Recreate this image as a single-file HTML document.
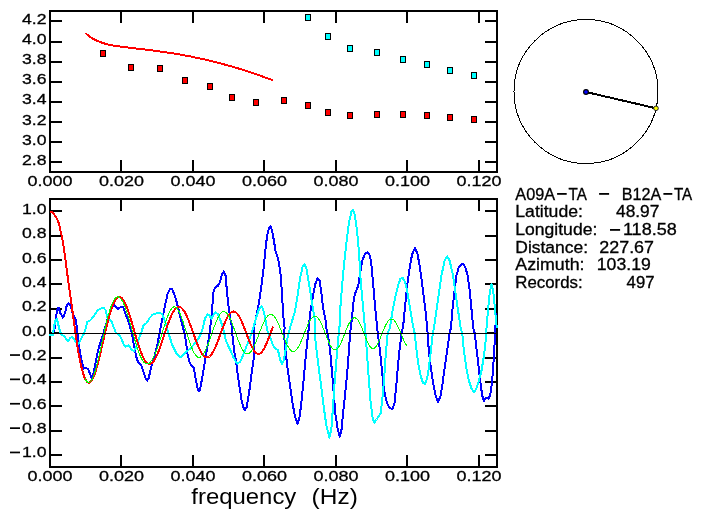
<!DOCTYPE html>
<html><head><meta charset="utf-8"><title>plot</title>
<style>html,body{margin:0;padding:0;background:#fff;}body{width:702px;height:519px;position:relative;overflow:hidden;font-family:"Liberation Sans",sans-serif;}</style>
</head><body>
<svg width="702" height="519" viewBox="0 0 702 519" style="position:absolute;left:0;top:0;will-change:transform;opacity:0.999">
<rect width="702" height="519" fill="#fff"/>
<g fill="none" stroke="#000" stroke-width="2" shape-rendering="crispEdges">
<rect x="50.0" y="11.0" width="447.0" height="161.0"/>
<rect x="50.0" y="199.0" width="447.0" height="268.0"/>
<line x1="121" y1="11.0" x2="121" y2="23.0"/>
<line x1="121" y1="172.0" x2="121" y2="160.0"/>
<line x1="121" y1="199.0" x2="121" y2="211.0"/>
<line x1="121" y1="467.0" x2="121" y2="455.0"/>
<line x1="193" y1="11.0" x2="193" y2="23.0"/>
<line x1="193" y1="172.0" x2="193" y2="160.0"/>
<line x1="193" y1="199.0" x2="193" y2="211.0"/>
<line x1="193" y1="467.0" x2="193" y2="455.0"/>
<line x1="264" y1="11.0" x2="264" y2="23.0"/>
<line x1="264" y1="172.0" x2="264" y2="160.0"/>
<line x1="264" y1="199.0" x2="264" y2="211.0"/>
<line x1="264" y1="467.0" x2="264" y2="455.0"/>
<line x1="336" y1="11.0" x2="336" y2="23.0"/>
<line x1="336" y1="172.0" x2="336" y2="160.0"/>
<line x1="336" y1="199.0" x2="336" y2="211.0"/>
<line x1="336" y1="467.0" x2="336" y2="455.0"/>
<line x1="407" y1="11.0" x2="407" y2="23.0"/>
<line x1="407" y1="172.0" x2="407" y2="160.0"/>
<line x1="407" y1="199.0" x2="407" y2="211.0"/>
<line x1="407" y1="467.0" x2="407" y2="455.0"/>
<line x1="479" y1="11.0" x2="479" y2="23.0"/>
<line x1="479" y1="172.0" x2="479" y2="160.0"/>
<line x1="479" y1="199.0" x2="479" y2="211.0"/>
<line x1="479" y1="467.0" x2="479" y2="455.0"/>
<line x1="50.0" y1="162" x2="62.0" y2="162"/>
<line x1="497.0" y1="162" x2="485.0" y2="162"/>
<line x1="50.0" y1="142" x2="62.0" y2="142"/>
<line x1="497.0" y1="142" x2="485.0" y2="142"/>
<line x1="50.0" y1="122" x2="62.0" y2="122"/>
<line x1="497.0" y1="122" x2="485.0" y2="122"/>
<line x1="50.0" y1="102" x2="62.0" y2="102"/>
<line x1="497.0" y1="102" x2="485.0" y2="102"/>
<line x1="50.0" y1="82" x2="62.0" y2="82"/>
<line x1="497.0" y1="82" x2="485.0" y2="82"/>
<line x1="50.0" y1="62" x2="62.0" y2="62"/>
<line x1="497.0" y1="62" x2="485.0" y2="62"/>
<line x1="50.0" y1="42" x2="62.0" y2="42"/>
<line x1="497.0" y1="42" x2="485.0" y2="42"/>
<line x1="50.0" y1="21" x2="62.0" y2="21"/>
<line x1="497.0" y1="21" x2="485.0" y2="21"/>
<line x1="50.0" y1="455" x2="62.0" y2="455"/>
<line x1="497.0" y1="455" x2="485.0" y2="455"/>
<line x1="50.0" y1="431" x2="62.0" y2="431"/>
<line x1="497.0" y1="431" x2="485.0" y2="431"/>
<line x1="50.0" y1="406" x2="62.0" y2="406"/>
<line x1="497.0" y1="406" x2="485.0" y2="406"/>
<line x1="50.0" y1="382" x2="62.0" y2="382"/>
<line x1="497.0" y1="382" x2="485.0" y2="382"/>
<line x1="50.0" y1="358" x2="62.0" y2="358"/>
<line x1="497.0" y1="358" x2="485.0" y2="358"/>
<line x1="50.0" y1="333" x2="62.0" y2="333"/>
<line x1="497.0" y1="333" x2="485.0" y2="333"/>
<line x1="50.0" y1="309" x2="62.0" y2="309"/>
<line x1="497.0" y1="309" x2="485.0" y2="309"/>
<line x1="50.0" y1="284" x2="62.0" y2="284"/>
<line x1="497.0" y1="284" x2="485.0" y2="284"/>
<line x1="50.0" y1="260" x2="62.0" y2="260"/>
<line x1="497.0" y1="260" x2="485.0" y2="260"/>
<line x1="50.0" y1="236" x2="62.0" y2="236"/>
<line x1="497.0" y1="236" x2="485.0" y2="236"/>
<line x1="50.0" y1="211" x2="62.0" y2="211"/>
<line x1="497.0" y1="211" x2="485.0" y2="211"/>
</g>
<clipPath id="cb"><rect x="49" y="199" width="449" height="268"/></clipPath>
<g clip-path="url(#cb)">
<polyline points="50.0,334.5 53.0,333.5 54.2,330.0 55.2,325.0 56.0,316.0 57.5,309.0 58.5,307.6 60.5,313.3 62.9,317.7 65.3,312.4 66.7,305.6 68.6,303.5 71.0,305.6 72.0,311.4 73.5,315.3 75.9,320.0 76.8,327.8 77.8,336.5 78.8,342.3 79.8,351.6 81.9,362.2 83.6,368.6 86.2,367.7 88.3,369.6 90.4,374.9 91.9,378.1 93.6,372.8 95.7,362.2 97.8,351.6 99.9,344.2 102.1,337.8 104.2,330.4 107.4,319.8 110.5,311.3 113.7,304.5 115.8,307.1 118.0,308.8 121.1,306.7 123.3,307.5 125.4,313.4 128.6,321.9 131.7,332.5 133.9,345.2 136.0,355.8 138.1,362.2 141.3,365.4 143.4,371.7 145.5,378.1 147.2,380.6 148.7,378.1 150.8,368.6 154.0,358.0 157.2,345.2 159.3,334.6 162.5,318.1 165.0,305.6 167.5,294.3 170.0,288.8 172.0,288.8 173.8,293.1 176.3,300.6 178.8,310.6 181.3,320.6 183.8,330.6 185.8,340.6 187.6,354.4 189.6,362.7 192.1,366.2 193.8,368.2 195.6,378.2 197.6,388.2 198.8,391.2 200.1,389.5 202.1,378.2 204.6,363.2 207.1,348.2 209.6,333.1 211.4,318.1 212.6,303.1 213.0,293.2 215.0,287.7 218.0,285.7 220.0,281.9 222.0,274.4 223.8,271.4 225.6,275.7 227.1,293.2 228.8,308.2 230.6,320.7 232.1,328.0 232.6,338.1 234.6,353.2 235.9,360.0 237.0,369.2 238.5,380.0 240.1,390.8 241.6,400.1 243.2,407.0 245.0,410.1 246.7,407.0 248.2,398.5 249.8,387.7 251.3,375.4 252.4,367.7 253.5,360.0 253.9,355.7 253.9,328.0 256.4,315.7 258.9,303.2 261.4,285.7 263.9,265.6 265.6,248.1 267.1,235.6 268.9,228.1 270.6,226.3 272.1,230.6 273.9,240.6 275.7,251.9 278.2,259.4 280.2,270.6 281.4,285.7 282.7,305.7 283.9,323.3 284.7,328.0 283.8,333.0 285.5,350.6 287.5,368.1 290.0,385.6 292.5,403.2 295.1,416.9 297.6,423.7 299.6,416.9 301.3,403.2 303.1,385.6 305.1,363.1 307.1,343.1 308.8,328.0 310.1,313.2 312.6,298.2 315.1,284.4 317.6,278.2 319.6,280.7 321.4,293.2 323.1,308.2 325.6,320.7 325.6,325.5 328.1,335.5 330.1,350.6 332.1,373.1 333.9,395.7 335.6,415.7 337.6,428.2 339.6,436.5 341.4,430.7 343.1,413.2 345.2,393.2 347.2,373.1 348.9,350.6 350.2,333.0 352.2,315.7 353.9,298.2 355.7,291.9 358.2,285.7 360.2,273.2 362.2,260.6 364.7,254.4 367.2,252.4 369.4,254.4 371.0,260.6 372.2,273.2 373.5,288.2 375.2,308.2 377.2,328.0 377.7,333.0 379.7,348.1 381.5,365.6 383.2,383.1 383.8,388.1 386.3,400.7 388.8,406.9 392.5,409.4 394.5,403.2 396.3,385.6 398.0,365.6 400.0,345.6 402.0,330.5 403.0,328.0 405.1,305.7 407.1,285.7 409.6,268.1 412.1,254.4 415.1,247.6 417.6,254.4 419.6,265.6 422.1,283.2 424.6,303.2 426.3,318.2 427.6,333.0 428.8,350.6 430.9,368.1 433.1,383.1 435.6,395.7 438.1,401.9 440.6,395.7 442.6,383.1 444.6,368.1 447.1,350.6 449.6,333.0 450.9,328.0 452.6,308.2 454.6,290.7 456.4,275.7 458.9,266.9 462.7,263.6 465.2,266.9 467.7,275.7 469.7,290.7 471.4,308.2 473.2,328.0 474.7,333.0 476.4,348.1 478.2,363.1 480.2,380.6 482.2,395.7 484.0,400.7 486.5,397.7 488.2,398.7 490.2,395.7 492.2,380.6 494.0,355.6 495.2,330.5 496.2,313.0" fill="none" stroke="#0000ff" stroke-width="2" stroke-linejoin="round" stroke-linecap="butt" shape-rendering="crispEdges"/>
<polyline points="49.0,335.0 52.7,335.0 53.2,331.7 54.2,325.9 55.6,320.1 56.6,318.7 58.0,323.0 59.0,327.8 60.5,332.6 61.4,334.6 63.8,336.0 66.2,338.9 68.2,341.3 70.1,337.9 72.0,337.0 73.9,338.9 75.9,342.3 77.8,344.7 79.3,342.3 81.7,337.4 84.1,333.6 85.5,328.8 87.2,321.9 90.4,320.2 93.6,316.6 96.8,311.3 99.9,308.8 103.5,307.7 105.7,310.3 107.4,317.7 109.5,319.8 111.6,321.5 113.7,327.2 115.8,332.5 119.0,335.1 121.1,337.8 123.3,343.5 125.4,346.9 128.6,345.2 131.7,349.5 133.9,351.0 136.0,347.4 138.1,341.0 141.3,332.5 143.4,325.7 146.6,323.0 149.8,317.7 152.9,314.5 156.1,313.4 160.0,313.1 162.0,313.8 163.8,318.1 166.3,325.6 168.8,334.4 172.5,345.7 176.3,353.2 180.0,357.4 182.5,355.7 186.3,351.9 190.1,348.7 195.1,343.2 198.8,338.1 201.3,333.1 203.1,326.9 205.1,318.1 207.6,314.3 209.6,315.6 211.4,318.9 213.1,315.6 215.6,312.3 218.1,314.3 220.6,320.6 223.1,328.1 225.6,339.4 228.1,345.7 230.6,350.7 233.9,358.2 237.2,363.7 240.2,361.9 243.9,353.2 247.7,343.2 250.7,335.6 253.9,325.6 256.4,316.8 258.9,309.3 261.5,306.1 263.2,309.3 265.2,318.1 267.2,330.6 270.0,336.8 272.5,344.3 275.0,348.1 278.0,350.1 280.0,359.3 282.0,364.3 283.8,360.6 285.5,350.6 287.5,338.0 290.0,328.0 295.1,310.7 297.6,295.7 300.1,278.2 302.6,266.9 304.6,264.4 306.3,268.1 308.1,278.2 310.1,290.7 312.1,303.2 314.6,318.2 314.6,333.0 316.3,348.1 318.8,368.1 321.4,388.1 323.9,408.2 326.4,425.7 329.4,437.7 331.4,428.2 333.1,405.7 334.6,383.1 336.4,360.6 338.1,340.5 339.6,325.5 340.1,310.7 342.1,285.7 343.9,265.6 346.4,243.1 348.9,223.1 351.4,211.8 352.7,210.0 354.4,213.0 356.4,225.6 358.2,243.1 359.7,263.1 360.7,280.7 362.2,298.2 363.9,315.7 365.2,330.5 366.4,345.6 367.7,363.1 368.9,380.6 370.7,403.2 372.7,418.2 374.2,422.7 376.5,419.5 379.0,415.7 380.7,413.2 382.2,400.7 384.0,380.6 385.7,355.6 387.7,333.0 390.0,328.0 392.5,310.7 395.0,298.2 398.0,285.7 400.5,278.7 402.5,277.7 405.1,281.9 407.6,293.2 410.1,308.2 412.6,323.3 414.6,333.0 416.3,348.1 418.1,363.1 420.6,375.6 423.1,383.1 425.1,383.9 427.1,378.1 428.8,368.1 430.6,353.1 432.6,335.5 433.9,328.0 436.4,310.7 438.9,293.2 441.4,275.7 444.6,260.6 447.1,256.4 449.6,260.6 452.6,273.2 455.2,290.7 457.7,308.2 460.7,328.0 462.2,333.0 463.9,350.6 466.4,368.1 468.9,380.6 471.4,388.1 474.2,392.4 476.4,388.1 478.9,380.6 481.5,370.6 484.0,355.6 485.7,340.5 486.5,328.0 488.2,308.2 489.7,293.2 491.5,283.7 493.2,290.7 494.7,305.7 496.2,323.3 497.0,328.0" fill="none" stroke="#00ffff" stroke-width="2" stroke-linejoin="round" stroke-linecap="butt" shape-rendering="crispEdges"/>
<polyline points="50.0,211.5 50.5,211.5 51.0,211.7 51.5,211.9 52.0,212.3 52.5,212.7 53.0,213.1 53.5,213.7 54.0,214.3 54.5,215.0 55.0,215.6 55.5,216.3 56.0,217.1 56.5,217.9 57.0,218.8 57.5,219.8 58.0,221.0 58.5,222.5 59.0,224.2 59.5,226.2 60.0,228.4 60.5,230.7 61.0,233.0 61.5,235.3 62.0,237.7 62.5,240.1 63.0,242.8 63.5,245.7 64.0,249.0 64.5,252.6 65.0,256.4 65.5,260.2 66.0,264.0 66.5,267.8 67.0,271.7 67.5,275.5 68.0,279.2 68.5,282.8 69.0,286.3 69.5,289.9 70.0,293.4 70.5,297.0 71.0,300.5 71.5,304.1 72.0,307.7 72.5,311.4 73.0,315.1 73.5,318.8 74.0,322.5 74.5,326.3 75.0,329.9 75.5,333.5 76.0,336.9 76.5,340.3 77.0,343.5 77.5,346.7 78.0,349.7 78.5,352.6 79.0,355.4 79.5,358.0 80.0,360.6 80.5,363.0 81.0,365.2 81.5,367.4 82.0,369.4 82.5,371.3 83.0,373.0 83.5,374.6 84.0,376.0 84.5,377.3 85.0,378.5 85.5,379.5 86.0,380.4 86.5,381.1 87.0,381.7 87.5,382.2 88.0,382.4 88.5,382.6 89.0,382.6 89.5,382.5 90.0,382.3 90.5,381.9 91.0,381.4 91.5,380.7 92.0,380.0 92.5,379.1 93.0,378.1 93.5,377.0 94.0,375.8 94.5,374.5 95.0,373.0 95.5,371.5 96.0,370.0 96.5,368.3 97.0,366.5 97.5,364.7 98.0,362.8 98.5,360.9 99.0,358.9 99.5,356.8 100.0,354.8 100.5,352.6 101.0,350.5 101.5,348.3 102.0,346.1 102.5,343.9 103.0,341.7 103.5,339.5 104.0,337.3 104.5,335.1 105.0,332.9 105.5,330.8 106.0,328.6 106.5,326.5 107.0,324.5 107.5,322.5 108.0,320.5 108.5,318.6 109.0,316.8 109.5,315.0 110.0,313.3 110.5,311.6 111.0,310.0 111.5,308.5 112.0,307.1 112.5,305.8 113.0,304.5 113.5,303.4 114.0,302.3 114.5,301.3 115.0,300.4 115.5,299.7 116.0,299.0 116.5,298.4 117.0,297.9 117.5,297.5 118.0,297.2 118.5,297.0 119.0,296.9 119.5,296.9 120.0,297.0 120.5,297.2 121.0,297.5 121.5,297.9 122.0,298.4 122.5,298.9 123.0,299.6 123.5,300.3 124.0,301.2 124.5,302.1 125.0,303.1 125.5,304.1 126.0,305.3 126.5,306.5 127.0,307.8 127.5,309.1 128.0,310.5 128.5,311.9 129.0,313.4 129.5,315.0 130.0,316.5 130.5,318.1 131.0,319.8 131.5,321.5 132.0,323.2 132.5,324.9 133.0,326.6 133.5,328.3 134.0,330.1 134.5,331.8 135.0,333.5 135.5,335.3 136.0,337.0 136.5,338.7 137.0,340.3 137.5,342.0 138.0,343.6 138.5,345.2 139.0,346.7 139.5,348.2 140.0,349.6 140.5,351.0 141.0,352.3 141.5,353.6 142.0,354.8 142.5,355.9 143.0,357.0 143.5,358.0 144.0,359.0 144.5,359.8 145.0,360.6 145.5,361.3 146.0,361.9 146.5,362.5 147.0,362.9 147.5,363.3 148.0,363.6 148.5,363.8 149.0,363.9 149.5,364.0 150.0,363.9 150.5,363.8 151.0,363.6 151.5,363.3 152.0,362.9 152.5,362.4 153.0,361.9 153.5,361.3 154.0,360.6 154.5,359.8 155.0,359.0 155.5,358.1 156.0,357.1 156.5,356.1 157.0,355.0 157.5,353.9 158.0,352.7 158.5,351.4 159.0,350.1 159.5,348.8 160.0,347.4 160.5,346.0 161.0,344.6 161.5,343.2 162.0,341.7 162.5,340.2 163.0,338.7 163.5,337.1 164.0,335.6 164.5,334.1 165.0,332.6 165.5,331.1 166.0,329.6 166.5,328.1 167.0,326.6 167.5,325.2 168.0,323.8 168.5,322.4 169.0,321.1 169.5,319.8 170.0,318.6 170.5,317.4 171.0,316.2 171.5,315.1 172.0,314.1 172.5,313.1 173.0,312.2 173.5,311.3 174.0,310.6 174.5,309.9 175.0,309.2 175.5,308.7 176.0,308.2 176.5,307.7 177.0,307.4 177.5,307.2 178.0,307.0 178.5,306.9 179.0,306.9 179.5,306.9 180.0,307.1 180.5,307.3 181.0,307.6 181.5,308.0 182.0,308.4 182.5,308.9 183.0,309.5 183.5,310.2 184.0,310.9 184.5,311.7 185.0,312.6 185.5,313.5 186.0,314.5 186.5,315.5 187.0,316.6 187.5,317.8 188.0,318.9 188.5,320.2 189.0,321.4 189.5,322.7 190.0,324.0 190.5,325.4 191.0,326.8 191.5,328.2 192.0,329.6 192.5,331.0 193.0,332.4 193.5,333.8 194.0,335.2 194.5,336.6 195.0,338.0 195.5,339.3 196.0,340.7 196.5,342.0 197.0,343.3 197.5,344.5 198.0,345.8 198.5,346.9 199.0,348.1 199.5,349.1 200.0,350.2 200.5,351.1 201.0,352.0 201.5,352.9 202.0,353.7 202.5,354.4 203.0,355.0 203.5,355.6 204.0,356.1 204.5,356.5 205.0,356.9 205.5,357.1 206.0,357.3 206.5,357.4 207.0,357.5 207.5,357.4 208.0,357.3 208.5,357.1 209.0,356.8 209.5,356.5 210.0,356.0 210.5,355.5 211.0,354.9 211.5,354.3 212.0,353.6 212.5,352.8 213.0,351.9 213.5,351.0 214.0,350.1 214.5,349.1 215.0,348.0 215.5,346.9 216.0,345.7 216.5,344.5 217.0,343.3 217.5,342.0 218.0,340.7 218.5,339.4 219.0,338.1 219.5,336.7 220.0,335.4 220.5,334.0 221.0,332.7 221.5,331.3 222.0,330.0 222.5,328.6 223.0,327.3 223.5,326.1 224.0,324.8 224.5,323.6 225.0,322.4 225.5,321.3 226.0,320.2 226.5,319.1 227.0,318.2 227.5,317.2 228.0,316.4 228.5,315.5 229.0,314.8 229.5,314.1 230.0,313.5 230.5,313.0 231.0,312.6 231.5,312.2 232.0,311.9 232.5,311.7 233.0,311.6 233.5,311.5 234.0,311.6 234.5,311.7 235.0,311.9 235.5,312.2 236.0,312.5 236.5,313.0 237.0,313.5 237.5,314.1 238.0,314.7 238.5,315.5 239.0,316.3 239.5,317.1 240.0,318.1 240.5,319.0 241.0,320.1 241.5,321.2 242.0,322.3 242.5,323.5 243.0,324.7 243.5,325.9 244.0,327.2 244.5,328.5 245.0,329.8 245.5,331.2 246.0,332.5 246.5,333.8 247.0,335.2 247.5,336.5 248.0,337.8 248.5,339.1 249.0,340.3 249.5,341.6 250.0,342.8 250.5,343.9 251.0,345.1 251.5,346.1 252.0,347.1 252.5,348.1 253.0,349.0 253.5,349.8 254.0,350.6 254.5,351.3 255.0,351.9 255.5,352.4 256.0,352.9 256.5,353.3 257.0,353.5 257.5,353.7 258.0,353.9 258.5,353.9 259.0,353.8 259.5,353.7 260.0,353.5 260.5,353.1 261.0,352.7 261.5,352.3 262.0,351.7 262.5,351.1 263.0,350.3 263.5,349.5 264.0,348.7 264.5,347.8 265.0,346.8 265.5,345.7 266.0,344.6 266.5,343.5 267.0,342.3 267.5,341.0 268.0,339.8 268.5,338.5 269.0,337.2 269.5,335.8 270.0,334.5 270.5,333.2 271.0,331.8 271.5,330.5 272.0,329.2 272.5,327.9 273.0,326.6" fill="none" stroke="#ff0000" stroke-width="2" stroke-linejoin="round" stroke-linecap="butt" shape-rendering="crispEdges"/>
<polyline points="85.0,378.4 85.5,379.5 86.0,380.4 86.5,381.1 87.0,381.7 87.5,382.2 88.0,382.5 88.5,382.6 89.0,382.6 89.5,382.4 90.0,382.1 90.5,381.7 91.0,381.1 91.5,380.3 92.0,379.5 92.5,378.4 93.0,377.3 93.5,376.1 94.0,374.7 94.5,373.2 95.0,371.6 95.5,369.9 96.0,368.2 96.5,366.3 97.0,364.4 97.5,362.4 98.0,360.3 98.5,358.2 99.0,356.0 99.5,353.7 100.0,351.5 100.5,349.2 101.0,346.9 101.5,344.6 102.0,342.3 102.5,339.9 103.0,337.6 103.5,335.3 104.0,333.0 104.5,330.8 105.0,328.6 105.5,326.4 106.0,324.3 106.5,322.2 107.0,320.2 107.5,318.2 108.0,316.3 108.5,314.5 109.0,312.7 109.5,311.1 110.0,309.5 110.5,308.0 111.0,306.5 111.5,305.2 112.0,304.0 112.5,302.8 113.0,301.8 113.5,300.8 114.0,299.9 114.5,299.2 115.0,298.6 115.5,298.0 116.0,297.6 116.5,297.2 117.0,297.0 117.5,296.9 118.0,296.9 118.5,297.0 119.0,297.2 119.5,297.5 120.0,297.9 120.5,298.4 121.0,299.0 121.5,299.7 122.0,300.5 122.5,301.4 123.0,302.3 123.5,303.4 124.0,304.5 124.5,305.7 125.0,307.0 125.5,308.3 126.0,309.7 126.5,311.2 127.0,312.7 127.5,314.3 128.0,315.9 128.5,317.6 129.0,319.3 129.5,321.0 130.0,322.7 130.5,324.5 131.0,326.3 131.5,328.1 132.0,329.9 132.5,331.7 133.0,333.5 133.5,335.3 134.0,337.1 134.5,338.8 135.0,340.5 135.5,342.2 136.0,343.9 136.5,345.5 137.0,347.1 137.5,348.6 138.0,350.1 138.5,351.5 139.0,352.9 139.5,354.2 140.0,355.4 140.5,356.5 141.0,357.6 141.5,358.6 142.0,359.5 142.5,360.4 143.0,361.1 143.5,361.8 144.0,362.4 144.5,362.8 145.0,363.2 145.5,363.6 146.0,363.8 146.5,363.9 147.0,364.0 147.5,363.9 148.0,363.8 148.5,363.6 149.0,363.3 149.5,362.9 150.0,362.4 150.5,361.9 151.0,361.3 151.5,360.6 152.0,359.9 152.5,359.1 153.0,358.2 153.5,357.2 154.0,356.2 154.5,355.2 155.0,354.1 155.5,352.9 156.0,351.6 156.5,350.4 157.0,349.0 157.5,347.7 158.0,346.3 158.5,344.8 159.0,343.3 159.5,341.8 160.0,340.3 160.5,338.7 161.0,337.1 161.5,335.5 162.0,333.8 162.5,332.2 163.0,330.5 163.5,328.9 164.0,327.3 164.5,325.7 165.0,324.1 165.5,322.6 166.0,321.0 166.5,319.6 167.0,318.2 167.5,316.8 168.0,315.5 168.5,314.3 169.0,313.2 169.5,312.1 170.0,311.1 170.5,310.2 171.0,309.4 171.5,308.8 172.0,308.2 172.5,307.7 173.0,307.3 173.5,307.0 174.0,306.9 174.5,306.9 175.0,306.9 175.5,307.1 176.0,307.4 176.5,307.8 177.0,308.4 177.5,309.0 178.0,309.7 178.5,310.5 179.0,311.4 179.5,312.5 180.0,313.5 180.5,314.7 181.0,316.0 181.5,317.3 182.0,318.6 182.5,320.1 183.0,321.5 183.5,323.0 184.0,324.6 184.5,326.2 185.0,327.7 185.5,329.3 186.0,330.9 186.5,332.5 187.0,334.1 187.5,335.7 188.0,337.3 188.5,338.8 189.0,340.3 189.5,341.8 190.0,343.2 190.5,344.6 191.0,345.9 191.5,347.2 192.0,348.4 192.5,349.6 193.0,350.7 193.5,351.7 194.0,352.7 194.5,353.5 195.0,354.3 195.5,355.0 196.0,355.6 196.5,356.2 197.0,356.6 197.5,357.0 198.0,357.2 198.5,357.4 199.0,357.5 199.5,357.4 200.0,357.3 200.5,357.1 201.0,356.8 201.5,356.5 202.0,356.0 202.5,355.4 203.0,354.8 203.5,354.1 204.0,353.3 204.5,352.4 205.0,351.5 205.5,350.5 206.0,349.4 206.5,348.3 207.0,347.1 207.5,345.8 208.0,344.6 208.5,343.2 209.0,341.9 209.5,340.5 210.0,339.0 210.5,337.6 211.0,336.1 211.5,334.7 212.0,333.2 212.5,331.7 213.0,330.3 213.5,328.8 214.0,327.4 214.5,326.0 215.0,324.7 215.5,323.4 216.0,322.1 216.5,320.9 217.0,319.7 217.5,318.6 218.0,317.6 218.5,316.6 219.0,315.7 219.5,314.9 220.0,314.2 220.5,313.5 221.0,313.0 221.5,312.5 222.0,312.1 222.5,311.8 223.0,311.6 223.5,311.5 224.0,311.5 224.5,311.6 225.0,311.8 225.5,312.1 226.0,312.5 226.5,312.9 227.0,313.5 227.5,314.1 228.0,314.9 228.5,315.7 229.0,316.5 229.5,317.5 230.0,318.5 230.5,319.6 231.0,320.7 231.5,321.9 232.0,323.2 232.5,324.4 233.0,325.7 233.5,327.1 234.0,328.5 234.5,329.9 235.0,331.3 235.5,332.7 236.0,334.1 236.5,335.5 237.0,336.8 237.5,338.2 238.0,339.6 238.5,340.9 239.0,342.1 239.5,343.4 240.0,344.6 240.5,345.7 241.0,346.8 241.5,347.8 242.0,348.8 242.5,349.6 243.0,350.4 243.5,351.2 244.0,351.8 244.5,352.4 245.0,352.9 245.5,353.2 246.0,353.5 246.5,353.8 247.0,353.9 247.5,353.9 248.0,353.8 248.5,353.7 249.0,353.4 249.5,353.1 250.0,352.7 250.5,352.1 251.0,351.6 251.5,350.9 252.0,350.1 252.5,349.3 253.0,348.4 253.5,347.4 254.0,346.4 254.5,345.3 255.0,344.2 255.5,343.0 256.0,341.8 256.5,340.6 257.0,339.3 257.5,338.0 258.0,336.7 258.5,335.4 259.0,334.0 259.5,332.7 260.0,331.4 260.5,330.1 261.0,328.8 261.5,327.5 262.0,326.3 262.5,325.1 263.0,323.9 263.5,322.8 264.0,321.8 264.5,320.8 265.0,319.8 265.5,318.9 266.0,318.1 266.5,317.4 267.0,316.7 267.5,316.1 268.0,315.6 268.5,315.2 269.0,314.9 269.5,314.6 270.0,314.5 270.5,314.4 271.0,314.4 271.5,314.5 272.0,314.7 272.5,314.9 273.0,315.3 273.5,315.7 274.0,316.3 274.5,316.9 275.0,317.5 275.5,318.3 276.0,319.1 276.5,320.0 277.0,320.9 277.5,321.9 278.0,323.0 278.5,324.1 279.0,325.2 279.5,326.4 280.0,327.6 280.5,328.9 281.0,330.1 281.5,331.4 282.0,332.7 282.5,334.0 283.0,335.3 283.5,336.6 284.0,337.9 284.5,339.1 285.0,340.3 285.5,341.5 286.0,342.6 286.5,343.7 287.0,344.7 287.5,345.7 288.0,346.6 288.5,347.5 289.0,348.3 289.5,349.0 290.0,349.6 290.5,350.1 291.0,350.6 291.5,351.0 292.0,351.3 292.5,351.4 293.0,351.5 293.5,351.5 294.0,351.5 294.5,351.3 295.0,351.0 295.5,350.7 296.0,350.2 296.5,349.7 297.0,349.1 297.5,348.4 298.0,347.6 298.5,346.7 299.0,345.8 299.5,344.8 300.0,343.8 300.5,342.7 301.0,341.6 301.5,340.4 302.0,339.2 302.5,338.0 303.0,336.7 303.5,335.4 304.0,334.1 304.5,332.9 305.0,331.6 305.5,330.3 306.0,329.1 306.5,327.8 307.0,326.7 307.5,325.5 308.0,324.4 308.5,323.4 309.0,322.4 309.5,321.4 310.0,320.6 310.5,319.8 311.0,319.0 311.5,318.4 312.0,317.8 312.5,317.4 313.0,317.0 313.5,316.7 314.0,316.5 314.5,316.4 315.0,316.4 315.5,316.4 316.0,316.6 316.5,316.9 317.0,317.2 317.5,317.7 318.0,318.2 318.5,318.9 319.0,319.6 319.5,320.3 320.0,321.2 320.5,322.1 321.0,323.1 321.5,324.2 322.0,325.3 322.5,326.5 323.0,327.7 323.5,328.9 324.0,330.1 324.5,331.4 325.0,332.7 325.5,334.0 326.0,335.3 326.5,336.6 327.0,337.9 327.5,339.1 328.0,340.3 328.5,341.5 329.0,342.6 329.5,343.7 330.0,344.7 330.5,345.6 331.0,346.4 331.5,347.2 332.0,347.9 332.5,348.5 333.0,349.0 333.5,349.3 334.0,349.6 334.5,349.8 335.0,349.9 335.5,349.8 336.0,349.7 336.5,349.4 337.0,349.1 337.5,348.6 338.0,348.0 338.5,347.4 339.0,346.6 339.5,345.8 340.0,344.9 340.5,343.9 341.0,342.9 341.5,341.7 342.0,340.6 342.5,339.4 343.0,338.1 343.5,336.9 344.0,335.6 344.5,334.3 345.0,333.0 345.5,331.7 346.0,330.4 346.5,329.2 347.0,328.0 347.5,326.8 348.0,325.6 348.5,324.6 349.0,323.5 349.5,322.6 350.0,321.7 350.5,320.9 351.0,320.2 351.5,319.6 352.0,319.0 352.5,318.6 353.0,318.2 353.5,318.0 354.0,317.9 354.5,317.8 355.0,317.9 355.5,318.0 356.0,318.3 356.5,318.6 357.0,319.1 357.5,319.7 358.0,320.3 358.5,321.0 359.0,321.9 359.5,322.7 360.0,323.7 360.5,324.7 361.0,325.8 361.5,327.0 362.0,328.2 362.5,329.4 363.0,330.7 363.5,331.9 364.0,333.2 364.5,334.5 365.0,335.8 365.5,337.1 366.0,338.4 366.5,339.6 367.0,340.8 367.5,341.9 368.0,343.0 368.5,344.0 369.0,344.9 369.5,345.7 370.0,346.4 370.5,347.1 371.0,347.6 371.5,348.0 372.0,348.3 372.5,348.5 373.0,348.6 373.5,348.5 374.0,348.4 374.5,348.1 375.0,347.7 375.5,347.2 376.0,346.6 376.5,345.9 377.0,345.1 377.5,344.2 378.0,343.2 378.5,342.2 379.0,341.1 379.5,340.0 380.0,338.8 380.5,337.5 381.0,336.3 381.5,335.0 382.0,333.8 382.5,332.5 383.0,331.2 383.5,330.0 384.0,328.8 384.5,327.7 385.0,326.6 385.5,325.5 386.0,324.5 386.5,323.6 387.0,322.7 387.5,321.9 388.0,321.2 388.5,320.6 389.0,320.1 389.5,319.7 390.0,319.4 390.5,319.1 391.0,319.0 391.5,319.0 392.0,319.0 392.5,319.2 393.0,319.4 393.5,319.8 394.0,320.2 394.5,320.8 395.0,321.4 395.5,322.1 396.0,322.9 396.5,323.8 397.0,324.7 397.5,325.7 398.0,326.7 398.5,327.8 399.0,329.0 399.5,330.1 400.0,331.3 400.5,332.5 401.0,333.7 401.5,335.0 402.0,336.2 402.5,337.3 403.0,338.5 403.5,339.6 404.0,340.7 404.5,341.7 405.0,342.7 405.5,343.5 406.0,344.4 406.5,345.1 407.0,345.7" fill="none" stroke="#00ff00" stroke-width="1" stroke-linejoin="round" stroke-linecap="butt" shape-rendering="crispEdges"/>
</g>
<polyline points="85.7,33.3 86.7,34.2 87.7,35.0 88.7,35.8 89.7,36.5 90.7,37.2 91.7,37.9 92.7,38.5 93.7,39.1 94.7,39.6 95.7,40.1 96.7,40.6 97.7,41.0 98.7,41.5 99.7,41.9 100.7,42.2 101.7,42.6 102.7,42.9 103.7,43.3 104.7,43.6 105.7,43.9 106.7,44.1 107.7,44.4 108.7,44.6 109.7,44.8 110.7,45.0 111.7,45.2 112.7,45.4 113.7,45.6 114.7,45.8 115.7,45.9 116.7,46.1 117.7,46.2 118.7,46.4 119.7,46.5 120.7,46.6 121.7,46.8 122.7,46.9 123.7,47.0 124.7,47.1 125.7,47.3 126.7,47.4 127.7,47.5 128.7,47.6 129.7,47.7 130.7,47.9 131.7,48.0 132.7,48.1 133.7,48.2 134.7,48.3 135.7,48.5 136.7,48.6 137.7,48.7 138.7,48.8 139.7,48.9 140.7,49.1 141.7,49.2 142.7,49.3 143.7,49.4 144.7,49.5 145.7,49.7 146.7,49.8 147.7,49.9 148.7,50.0 149.7,50.2 150.7,50.3 151.7,50.4 152.7,50.5 153.7,50.7 154.7,50.8 155.7,50.9 156.7,51.0 157.7,51.2 158.7,51.3 159.7,51.4 160.7,51.6 161.7,51.7 162.7,51.9 163.7,52.0 164.7,52.1 165.7,52.3 166.7,52.4 167.7,52.6 168.7,52.7 169.7,52.9 170.7,53.0 171.7,53.2 172.7,53.3 173.7,53.5 174.7,53.7 175.7,53.8 176.7,54.0 177.7,54.2 178.7,54.3 179.7,54.5 180.7,54.7 181.7,54.9 182.7,55.0 183.7,55.2 184.7,55.4 185.7,55.6 186.7,55.8 187.7,56.0 188.7,56.2 189.7,56.4 190.7,56.5 191.7,56.7 192.7,57.0 193.7,57.2 194.7,57.4 195.7,57.6 196.7,57.8 197.7,58.0 198.7,58.2 199.7,58.4 200.7,58.6 201.7,58.9 202.7,59.1 203.7,59.3 204.7,59.5 205.7,59.8 206.7,60.0 207.7,60.2 208.7,60.5 209.7,60.7 210.7,61.0 211.7,61.2 212.7,61.4 213.7,61.7 214.7,61.9 215.7,62.2 216.7,62.4 217.7,62.7 218.7,63.0 219.7,63.2 220.7,63.5 221.7,63.8 222.7,64.0 223.7,64.3 224.7,64.6 225.7,64.8 226.7,65.1 227.7,65.4 228.7,65.7 229.7,66.0 230.7,66.2 231.7,66.5 232.7,66.8 233.7,67.1 234.7,67.4 235.7,67.7 236.7,68.0 237.7,68.3 238.7,68.6 239.7,68.9 240.7,69.2 241.7,69.5 242.7,69.9 243.7,70.2 244.7,70.5 245.7,70.8 246.7,71.1 247.7,71.5 248.7,71.8 249.7,72.1 250.7,72.4 251.7,72.8 252.7,73.1 253.7,73.4 254.7,73.8 255.7,74.1 256.7,74.5 257.7,74.8 258.7,75.2 259.7,75.5 260.7,75.9 261.7,76.2 262.7,76.6 263.7,77.0 264.7,77.3 265.7,77.7 266.7,78.0 267.7,78.4 268.7,78.8 269.7,79.2 270.7,79.5 271.7,79.9 272.7,80.3" fill="none" stroke="#ff0000" stroke-width="2" stroke-linejoin="round" stroke-linecap="butt" shape-rendering="crispEdges"/>
<rect x="50.0" y="333" width="447.0" height="1" fill="#000" shape-rendering="crispEdges"/>
<g font-family="Liberation Sans, sans-serif" font-size="15px" fill="#000" stroke="#000" stroke-width="0.3">
<text x="27.5" y="186" textLength="45" lengthAdjust="spacingAndGlyphs" text-anchor="start">0.000</text>
<text x="27.5" y="481" textLength="45" lengthAdjust="spacingAndGlyphs" text-anchor="start">0.000</text>
<text x="99.02" y="186" textLength="45" lengthAdjust="spacingAndGlyphs" text-anchor="start">0.020</text>
<text x="99.02" y="481" textLength="45" lengthAdjust="spacingAndGlyphs" text-anchor="start">0.020</text>
<text x="170.54" y="186" textLength="45" lengthAdjust="spacingAndGlyphs" text-anchor="start">0.040</text>
<text x="170.54" y="481" textLength="45" lengthAdjust="spacingAndGlyphs" text-anchor="start">0.040</text>
<text x="242.06" y="186" textLength="45" lengthAdjust="spacingAndGlyphs" text-anchor="start">0.060</text>
<text x="242.06" y="481" textLength="45" lengthAdjust="spacingAndGlyphs" text-anchor="start">0.060</text>
<text x="313.58" y="186" textLength="45" lengthAdjust="spacingAndGlyphs" text-anchor="start">0.080</text>
<text x="313.58" y="481" textLength="45" lengthAdjust="spacingAndGlyphs" text-anchor="start">0.080</text>
<text x="385.1" y="186" textLength="45" lengthAdjust="spacingAndGlyphs" text-anchor="start">0.100</text>
<text x="385.1" y="481" textLength="45" lengthAdjust="spacingAndGlyphs" text-anchor="start">0.100</text>
<text x="456.62" y="186" textLength="45" lengthAdjust="spacingAndGlyphs" text-anchor="start">0.120</text>
<text x="456.62" y="481" textLength="45" lengthAdjust="spacingAndGlyphs" text-anchor="start">0.120</text>
<text x="22" y="164.83750000000003" textLength="24.5" lengthAdjust="spacingAndGlyphs" text-anchor="start">2.8</text>
<text x="22" y="144.71250000000003" textLength="24.5" lengthAdjust="spacingAndGlyphs" text-anchor="start">3.0</text>
<text x="22" y="124.58750000000006" textLength="24.5" lengthAdjust="spacingAndGlyphs" text-anchor="start">3.2</text>
<text x="22" y="104.46250000000003" textLength="24.5" lengthAdjust="spacingAndGlyphs" text-anchor="start">3.4</text>
<text x="22" y="84.33750000000006" textLength="24.5" lengthAdjust="spacingAndGlyphs" text-anchor="start">3.6</text>
<text x="22" y="64.21250000000005" textLength="24.5" lengthAdjust="spacingAndGlyphs" text-anchor="start">3.8</text>
<text x="22" y="44.08750000000003" textLength="24.5" lengthAdjust="spacingAndGlyphs" text-anchor="start">4.0</text>
<text x="22" y="23.9625" textLength="24.5" lengthAdjust="spacingAndGlyphs" text-anchor="start">4.2</text>
<text x="22" y="457.41818181818184" textLength="24.5" lengthAdjust="spacingAndGlyphs" text-anchor="start">1.0</text>
<rect x="10" y="451.6" width="10" height="1.7" stroke="none"/>
<text x="22" y="433.05454545454546" textLength="24.5" lengthAdjust="spacingAndGlyphs" text-anchor="start">0.8</text>
<rect x="10" y="427.3" width="10" height="1.7" stroke="none"/>
<text x="22" y="408.6909090909091" textLength="24.5" lengthAdjust="spacingAndGlyphs" text-anchor="start">0.6</text>
<rect x="10" y="402.9" width="10" height="1.7" stroke="none"/>
<text x="22" y="384.3272727272727" textLength="24.5" lengthAdjust="spacingAndGlyphs" text-anchor="start">0.4</text>
<rect x="10" y="378.5" width="10" height="1.7" stroke="none"/>
<text x="22" y="359.9636363636364" textLength="24.5" lengthAdjust="spacingAndGlyphs" text-anchor="start">0.2</text>
<rect x="10" y="354.2" width="10" height="1.7" stroke="none"/>
<text x="22" y="335.6" textLength="24.5" lengthAdjust="spacingAndGlyphs" text-anchor="start">0.0</text>
<text x="22" y="311.23636363636365" textLength="24.5" lengthAdjust="spacingAndGlyphs" text-anchor="start">0.2</text>
<text x="22" y="286.8727272727273" textLength="24.5" lengthAdjust="spacingAndGlyphs" text-anchor="start">0.4</text>
<text x="22" y="262.5090909090909" textLength="24.5" lengthAdjust="spacingAndGlyphs" text-anchor="start">0.6</text>
<text x="22" y="238.14545454545456" textLength="24.5" lengthAdjust="spacingAndGlyphs" text-anchor="start">0.8</text>
<text x="22" y="213.78181818181818" textLength="24.5" lengthAdjust="spacingAndGlyphs" text-anchor="start">1.0</text>
<g stroke="none">
<text x="191.3" y="503.8" textLength="105" lengthAdjust="spacingAndGlyphs" text-anchor="start" font-size="22px">frequency</text>
<text x="311.6" y="503.8" textLength="46.2" lengthAdjust="spacingAndGlyphs" text-anchor="start" font-size="22px">(Hz)</text>
</g>
<text x="515.3" y="199.8" textLength="39.8" lengthAdjust="spacingAndGlyphs" text-anchor="start" font-size="15.8px">A09A</text>
<text x="568.5" y="199.8" textLength="18.3" lengthAdjust="spacingAndGlyphs" text-anchor="start" font-size="15.8px">TA</text>
<text x="621.8" y="199.8" textLength="39.5" lengthAdjust="spacingAndGlyphs" text-anchor="start" font-size="15.8px">B12A</text>
<text x="673.9" y="199.8" textLength="18.3" lengthAdjust="spacingAndGlyphs" text-anchor="start" font-size="15.8px">TA</text>
<text x="515.3" y="217.0" textLength="67.6" lengthAdjust="spacingAndGlyphs" text-anchor="start" font-size="15.8px">Latitude:</text>
<text x="616" y="217.0" textLength="43.4" lengthAdjust="spacingAndGlyphs" text-anchor="start" font-size="15.8px">48.97</text>
<text x="515.3" y="235.0" textLength="82" lengthAdjust="spacingAndGlyphs" text-anchor="start" font-size="15.8px">Longitude:</text>
<text x="622.9" y="235.0" textLength="53.9" lengthAdjust="spacingAndGlyphs" text-anchor="start" font-size="15.8px">118.58</text>
<text x="515.3" y="252.7" textLength="72.8" lengthAdjust="spacingAndGlyphs" text-anchor="start" font-size="15.8px">Distance:</text>
<text x="599.3" y="252.7" textLength="54.7" lengthAdjust="spacingAndGlyphs" text-anchor="start" font-size="15.8px">227.67</text>
<text x="515.3" y="270.4" textLength="69.2" lengthAdjust="spacingAndGlyphs" text-anchor="start" font-size="15.8px">Azimuth:</text>
<text x="596.8" y="270.4" textLength="54" lengthAdjust="spacingAndGlyphs" text-anchor="start" font-size="15.8px">103.19</text>
<text x="515.3" y="288.0" textLength="67.3" lengthAdjust="spacingAndGlyphs" text-anchor="start" font-size="15.8px">Records:</text>
<text x="626.6" y="288.0" textLength="27.9" lengthAdjust="spacingAndGlyphs" text-anchor="start" font-size="15.8px">497</text>
<rect x="557.1" y="193" width="9.6" height="1.8" stroke="none"/>
<rect x="599.1" y="193" width="10.0" height="1.8" stroke="none"/>
<rect x="663.4" y="193" width="8.9" height="1.8" stroke="none"/>
<rect x="610" y="229" width="10.1" height="1.8" stroke="none"/>
</g>
<g stroke="#000" stroke-width="1" shape-rendering="crispEdges">
<rect x="100.5" y="50.5" width="5" height="6" fill="#ff0000"/>
<rect x="128.5" y="64.5" width="5" height="6" fill="#ff0000"/>
<rect x="157.5" y="65.5" width="5" height="6" fill="#ff0000"/>
<rect x="182.5" y="77.5" width="5" height="6" fill="#ff0000"/>
<rect x="207.5" y="83.5" width="5" height="6" fill="#ff0000"/>
<rect x="229.5" y="94.5" width="5" height="6" fill="#ff0000"/>
<rect x="253.5" y="99.5" width="5" height="6" fill="#ff0000"/>
<rect x="281.5" y="97.5" width="5" height="6" fill="#ff0000"/>
<rect x="305.5" y="102.5" width="5" height="6" fill="#ff0000"/>
<rect x="325.5" y="109.5" width="5" height="6" fill="#ff0000"/>
<rect x="347.5" y="112.5" width="5" height="6" fill="#ff0000"/>
<rect x="374.5" y="111.5" width="5" height="6" fill="#ff0000"/>
<rect x="400.5" y="111.5" width="5" height="6" fill="#ff0000"/>
<rect x="424.5" y="112.5" width="5" height="6" fill="#ff0000"/>
<rect x="447.5" y="114.5" width="5" height="6" fill="#ff0000"/>
<rect x="471.5" y="116.5" width="5" height="6" fill="#ff0000"/>
<rect x="305.5" y="14.5" width="5" height="6" fill="#00ffff"/>
<rect x="325.5" y="33.5" width="5" height="6" fill="#00ffff"/>
<rect x="347.5" y="45.5" width="5" height="6" fill="#00ffff"/>
<rect x="374.5" y="49.5" width="5" height="6" fill="#00ffff"/>
<rect x="400.5" y="56.5" width="5" height="6" fill="#00ffff"/>
<rect x="424.5" y="61.5" width="5" height="6" fill="#00ffff"/>
<rect x="447.5" y="67.5" width="5" height="6" fill="#00ffff"/>
<rect x="471.5" y="72.5" width="5" height="6" fill="#00ffff"/>
</g>
<circle cx="586" cy="91.5" r="72" fill="none" stroke="#000" stroke-width="1" shape-rendering="crispEdges"/>
<line x1="586" y1="92" x2="656" y2="108.3" stroke="#000" stroke-width="2" shape-rendering="crispEdges"/>
<circle cx="586" cy="92" r="2.4" fill="#0000ff" stroke="#000" stroke-width="1.2"/>
<circle cx="656" cy="108.3" r="2.3" fill="#ffff00" stroke="#222" stroke-width="1"/>
</svg>
</body></html>
